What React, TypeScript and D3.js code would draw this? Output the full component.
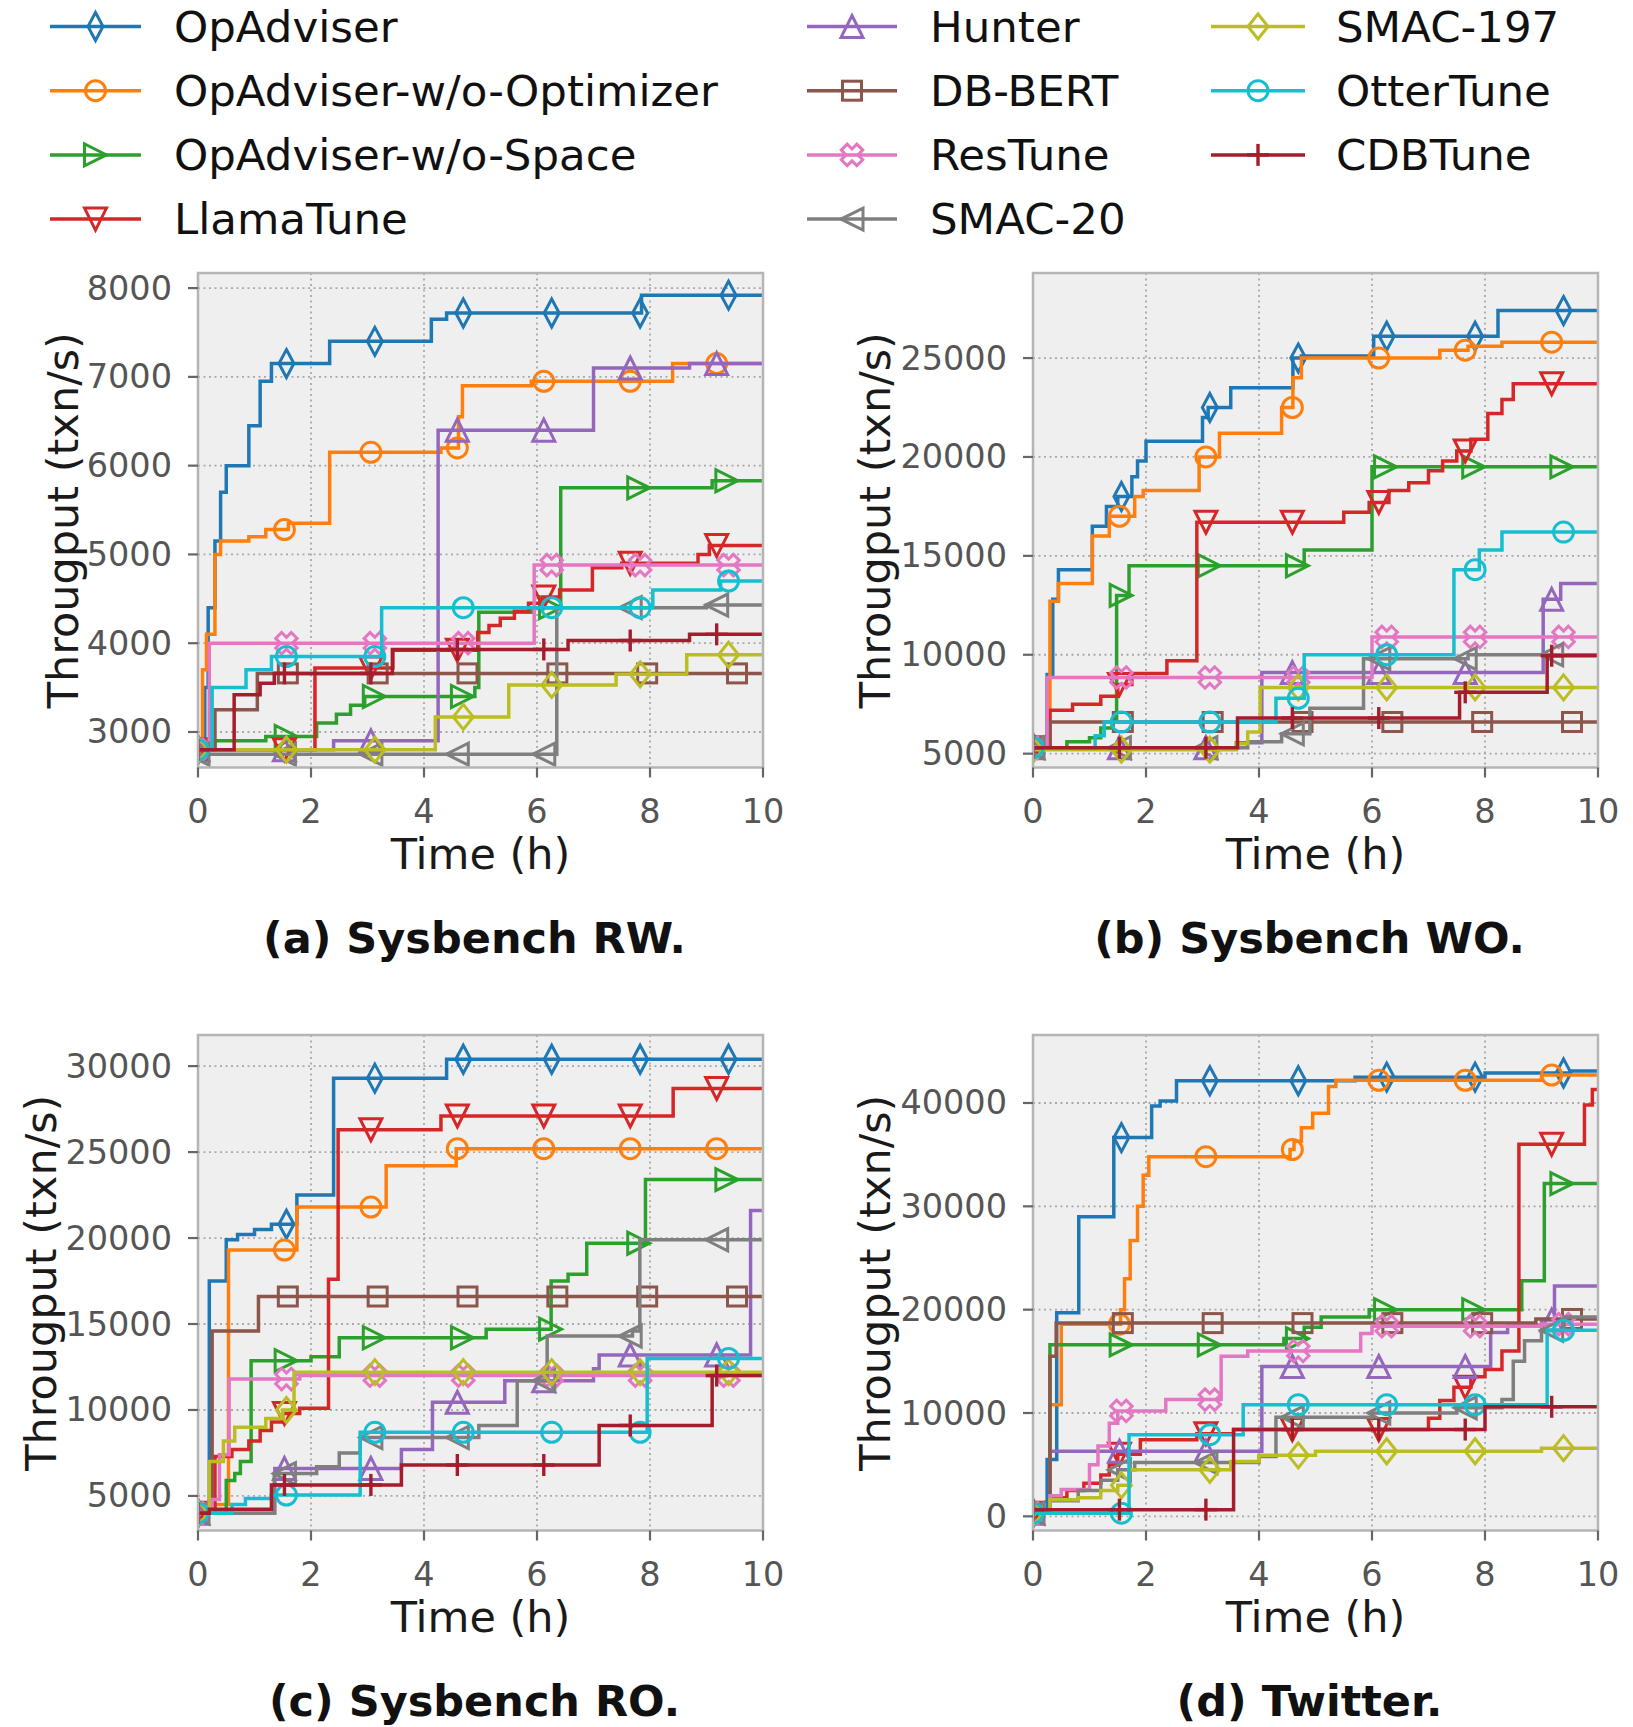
import React from 'react';
import * as d3 from 'd3';

type Pt = [number, number];

const methodNames = [
  'OpAdviser', 'OpAdviser-w/o-Optimizer', 'OpAdviser-w/o-Space', 'LlamaTune',
  'Hunter', 'DB-BERT', 'ResTune', 'SMAC-20', 'SMAC-197', 'OtterTune', 'CDBTune',
];

const timeTicks = [0, 2, 4, 6, 8, 10];
const rwTicks = [3000, 4000, 5000, 6000, 7000, 8000];
const woTicks = [5000, 10000, 15000, 20000, 25000];
const roTicks = [5000, 10000, 15000, 20000, 25000, 30000];
const twitterTicks = [0, 10000, 20000, 30000, 40000];

// best throughput so far, [hour, txn/s] at each improvement (drawn as steps-post)
// series order follows methodNames
const sysbenchRW: Pt[][] = [
  [[0, 2800], [0.12, 3500], [0.18, 4400], [0.3, 5150], [0.4, 5700], [0.5, 6000], [0.9, 6450], [1.1, 6950], [1.3, 7150], [2.33, 7400], [4.13, 7650], [4.4, 7720], [7.85, 7920]],
  [[0, 2800], [0.08, 3700], [0.15, 4100], [0.3, 5000], [0.4, 5150], [0.9, 5200], [1.2, 5280], [1.6, 5350], [2.33, 6150], [4.3, 6200], [4.61, 6550], [4.68, 6900], [5.9, 6950], [8.4, 7150]],
  [[0, 2800], [0.3, 2900], [1.2, 2950], [2.1, 3100], [2.45, 3200], [2.7, 3300], [2.95, 3400], [4.9, 3500], [4.97, 4350], [5.9, 4400], [6.42, 5750], [9.1, 5830]],
  [[0, 2800], [2.07, 3720], [3.45, 3920], [4.95, 4120], [5.15, 4200], [5.35, 4280], [5.6, 4360], [5.85, 4450], [6.1, 4520], [6.4, 4600], [6.98, 4850], [7.5, 4900], [8.85, 5000], [9.05, 5100]],
  [[0, 2800], [2.4, 2900], [4.25, 6400], [7.0, 7100], [8.7, 7150]],
  [[0, 2800], [0.3, 3250], [1.05, 3660]],
  [[0, 2800], [0.2, 4000], [5.95, 4880]],
  [[0, 2750], [6.35, 4400], [9.0, 4430]],
  [[0, 2800], [4.2, 3170], [5.5, 3530], [7.4, 3650], [8.65, 3870]],
  [[0, 2800], [0.25, 3500], [0.85, 3700], [1.3, 3850], [3.25, 4400], [8.05, 4600], [9.25, 4700]],
  [[0, 2800], [0.64, 3420], [1.1, 3550], [1.35, 3660], [3.44, 3930], [6.55, 4030], [8.7, 4100]],
];

const sysbenchWO: Pt[][] = [
  [[0, 5300], [0.25, 9000], [0.35, 12800], [0.45, 14300], [1.05, 16500], [1.3, 17500], [1.5, 18000], [1.75, 19000], [1.85, 19800], [2.0, 20800], [3.0, 22000], [3.1, 22500], [3.5, 23500], [4.6, 25000], [4.75, 25100], [6.03, 26100], [8.23, 27400]],
  [[0, 5300], [0.3, 12700], [0.45, 13600], [1.05, 16000], [1.35, 17000], [1.8, 18000], [1.95, 18300], [2.94, 20000], [3.3, 21200], [4.4, 22500], [4.6, 24000], [4.75, 25000], [7.2, 25400], [7.7, 25600], [8.3, 25800]],
  [[0, 5300], [0.6, 5600], [1.0, 5800], [1.2, 6300], [1.4, 6700], [1.48, 13000], [1.7, 14500], [4.8, 15300], [6.0, 19500]],
  [[0, 5300], [0.3, 7200], [0.7, 7500], [1.2, 7900], [1.5, 8500], [1.75, 9050], [2.37, 9700], [2.9, 16700], [5.5, 17200], [5.95, 17700], [6.3, 18300], [6.65, 18700], [7.0, 19300], [7.25, 19800], [7.5, 20300], [7.75, 20900], [8.05, 22200], [8.3, 22900], [8.5, 23700]],
  [[0, 5300], [3.6, 5550], [4.05, 9100], [9.03, 12800], [9.34, 13600]],
  [[0, 5300], [0.3, 6600]],
  [[0, 5300], [0.25, 8850], [6.0, 10900]],
  [[0, 5300], [3.8, 5600], [4.4, 6000], [4.9, 7300], [5.85, 9800], [7.7, 10000]],
  [[0, 5200], [3.6, 5500], [3.8, 6100], [4.02, 8350]],
  [[0, 5300], [1.1, 5900], [1.26, 6600], [4.3, 7800], [4.8, 10000], [7.45, 14300], [7.9, 15300], [8.3, 16200]],
  [[0, 5300], [3.62, 6800], [7.55, 8100], [9.1, 9950]],
];

const sysbenchRO: Pt[][] = [
  [[0, 4000], [0.2, 17500], [0.5, 19900], [0.7, 20200], [1.0, 20500], [1.3, 20800], [1.75, 22500], [2.4, 29300], [4.4, 30400]],
  [[0, 4000], [0.3, 4500], [0.54, 19300], [1.75, 21800], [3.33, 24200], [4.57, 25200]],
  [[0, 4000], [0.5, 5900], [0.65, 6300], [0.75, 7000], [0.94, 12870], [2.0, 13100], [2.5, 14200], [5.1, 14700], [6.25, 17500], [6.55, 17900], [6.88, 19700], [7.92, 23400]],
  [[0, 4000], [0.3, 7300], [0.6, 7700], [0.9, 8200], [1.1, 8800], [1.3, 9300], [1.5, 9800], [1.8, 10100], [2.31, 17600], [2.48, 26300], [4.3, 27100], [8.41, 28700]],
  [[0, 4000], [1.36, 6600], [3.6, 7700], [4.15, 10450], [5.43, 11700], [7.0, 12400], [7.1, 13200], [9.78, 21600]],
  [[0, 4000], [0.25, 14600], [1.07, 16600]],
  [[0, 4000], [0.25, 4800], [0.38, 7400], [0.55, 11800], [1.8, 12000]],
  [[0, 4000], [1.35, 6300], [2.1, 6700], [2.5, 7500], [2.87, 8400], [4.97, 9100], [5.65, 11700], [6.18, 14300], [7.69, 14600], [7.82, 19900]],
  [[0, 4000], [0.2, 7000], [0.45, 8200], [0.65, 9000], [1.2, 9500], [1.5, 10000], [1.7, 12200]],
  [[0, 4000], [0.6, 4500], [0.84, 4850], [1.3, 5050], [2.87, 8700], [7.95, 13000]],
  [[0, 4000], [0.2, 4230], [1.3, 5640], [3.6, 6800], [7.1, 9100], [9.1, 12000]],
];

const twitter: Pt[][] = [
  [[0, 300], [0.25, 5500], [0.42, 19700], [0.81, 29000], [1.43, 36650], [2.1, 39700], [2.25, 40200], [2.54, 42150], [5.7, 42500], [8.0, 42900], [9.5, 43100]],
  [[0, 300], [0.3, 10800], [0.5, 18600], [1.55, 20000], [1.62, 23000], [1.72, 26700], [1.85, 30000], [1.95, 33000], [2.05, 34800], [4.55, 35500], [4.62, 36300], [4.75, 37600], [4.95, 39000], [5.23, 41600], [5.36, 42200], [9.0, 42700]],
  [[0, 300], [0.3, 16600], [4.44, 17200], [4.8, 18300], [5.1, 19300], [5.95, 20000], [8.65, 22800], [9.05, 32200]],
  [[0, 300], [0.3, 1800], [0.6, 2500], [0.9, 3200], [1.2, 4000], [1.35, 5000], [1.5, 6000], [1.9, 7400], [2.9, 8000], [3.55, 8400], [7.0, 9500], [7.2, 11200], [7.45, 12500], [7.75, 13500], [8.0, 14200], [8.3, 16000], [8.6, 36000], [9.76, 39800], [9.9, 41300]],
  [[0, 300], [0.3, 6300], [4.05, 14500], [8.1, 17800], [8.4, 18500], [9.0, 19000], [9.23, 22300]],
  [[0, 300], [0.3, 15500], [0.41, 18700], [8.9, 19100]],
  [[0, 300], [0.3, 2000], [0.5, 2600], [1.0, 5000], [1.15, 6800], [1.35, 9000], [1.5, 10200], [2.35, 11300], [3.33, 15500], [3.8, 16000], [5.8, 17700], [6.0, 18400], [9.0, 18600]],
  [[0, 300], [0.3, 1500], [0.8, 2500], [1.2, 3500], [1.5, 4500], [1.8, 5200], [4.0, 5800], [4.3, 9600], [6.0, 10000], [7.5, 10500], [8.3, 11300], [8.5, 15000], [8.7, 17000], [9.0, 18000], [9.4, 19300]],
  [[0, 300], [0.3, 1600], [0.8, 1800], [1.2, 2500], [1.5, 3000], [1.7, 4500], [3.5, 5300], [4.0, 5900], [5.0, 6300], [9.0, 6600]],
  [[0, 300], [1.7, 7900], [3.72, 10800], [9.1, 18000]],
  [[0, 650], [3.55, 8400], [8.0, 10600]],
];

// styling per method
const colors = ['#1f77b4', '#ff7f0e', '#2ca02c', '#d62728', '#9467bd', '#8c564b', '#e377c2', '#7f7f7f', '#bcbd22', '#17becf', '#a51d2d'];
const markerKinds = ['thinDiamond', 'circle', 'triRight', 'triDown', 'triUp', 'square', 'xcross', 'triLeft', 'diamond', 'circle', 'plus'];
const markGaps = [1.565, 1.53, 1.56, 1.53, 1.53, 1.59, 1.565, 1.53, 1.565, 1.565, 1.53];

const FONT = 'DejaVu Sans';
const W = 1633;
const H = 1727;
const LW = 3.5;
const MW = 3;

const panels = [
  { caption: '(a) Sysbench RW.', data: sysbenchRW, ticks: rwTicks, domain: [2600, 8170], left: 198, right: 763, top: 273, bottom: 767.5, labelOff: 135 },
  { caption: '(b) Sysbench WO.', data: sysbenchWO, ticks: woTicks, domain: [4300, 29300], left: 1033, right: 1598, top: 273, bottom: 767.5, labelOff: 158 },
  { caption: '(c) Sysbench RO.', data: sysbenchRO, ticks: roTicks, domain: [2990, 31810], left: 198, right: 763, top: 1035, bottom: 1530.5, labelOff: 157 },
  { caption: '(d) Twitter.', data: twitter, ticks: twitterTicks, domain: [-1370, 46580], left: 1033, right: 1598, top: 1035, bottom: 1530.5, labelOff: 158 },
];

function poly(pts: Pt[]) {
  return pts.map((p) => p.join(',')).join(' ');
}

function Marker({ kind, x, y, color }: { kind: string; x: number; y: number; color: string }) {
  const st = { fill: 'none', stroke: color, strokeWidth: MW, strokeLinejoin: 'miter' as const };
  const t = `translate(${x},${y})`;
  switch (kind) {
    case 'circle':
      return <circle cx={x} cy={y} r={10} {...st} />;
    case 'thinDiamond':
      return <polygon transform={t} points={poly([[0, -14], [7.5, 0], [0, 14], [-7.5, 0]])} {...st} />;
    case 'diamond':
      return <polygon transform={t} points={poly([[0, -12.5], [10, 0], [0, 12.5], [-10, 0]])} {...st} />;
    case 'triUp':
      return <polygon transform={t} points={poly([[0, -11], [11, 11], [-11, 11]])} {...st} />;
    case 'triDown':
      return <polygon transform={t} points={poly([[0, 11], [11, -11], [-11, -11]])} {...st} />;
    case 'triRight':
      return <polygon transform={t} points={poly([[11, 0], [-11, 11], [-11, -11]])} {...st} />;
    case 'triLeft':
      return <polygon transform={t} points={poly([[-11, 0], [11, 11], [11, -11]])} {...st} />;
    case 'square':
      return <rect x={x - 9.5} y={y - 9.5} width={19} height={19} {...st} />;
    case 'xcross': {
      const L = 11, w = 4.2;
      const plus: Pt[] = [[-w, -L], [w, -L], [w, -w], [L, -w], [L, w], [w, w], [w, L], [-w, L], [-w, w], [-L, w], [-L, -w], [-w, -w]];
      return <polygon transform={`${t} rotate(45)`} points={poly(plus)} {...st} />;
    }
    case 'plus':
      return (
        <g transform={t} stroke={color} strokeWidth={3.4}>
          <line x1={0} y1={-11} x2={0} y2={11} />
          <line x1={-11} y1={0} x2={11} y2={0} />
        </g>
      );
    default:
      return null;
  }
}

function valueAt(steps: Pt[], t: number) {
  let v = steps[0][1];
  for (const [s, val] of steps) if (s <= t) v = val;
  return v;
}

function Panel({ cfg, idx }: { cfg: (typeof panels)[number]; idx: number }) {
  const x = d3.scaleLinear().domain([0, 10]).range([cfg.left, cfg.right]);
  const y = d3.scaleLinear().domain(cfg.domain).range([cfg.bottom, cfg.top]);
  const line = d3.line<Pt>().x((d) => x(d[0])).y((d) => y(d[1])).curve(d3.curveStepAfter);
  const clipId = `clip-${idx}`;
  const cx = (cfg.left + cfg.right) / 2;
  const cy = (cfg.top + cfg.bottom) / 2;

  return (
    <g>
      <defs>
        <clipPath id={clipId}>
          <rect x={cfg.left} y={cfg.top} width={cfg.right - cfg.left} height={cfg.bottom - cfg.top} />
        </clipPath>
      </defs>
      <rect x={cfg.left} y={cfg.top} width={cfg.right - cfg.left} height={cfg.bottom - cfg.top} fill="#efefef" />
      {/* grid */}
      {timeTicks.map((t) => (
        <line key={`gx${t}`} x1={x(t)} x2={x(t)} y1={cfg.top} y2={cfg.bottom} stroke="#a9a9a9" strokeWidth={1.8} strokeDasharray="2 3.5" />
      ))}
      {cfg.ticks.map((v) => (
        <line key={`gy${v}`} x1={cfg.left} x2={cfg.right} y1={y(v)} y2={y(v)} stroke="#a9a9a9" strokeWidth={1.8} strokeDasharray="2 3.5" />
      ))}
      {/* series */}
      <g clipPath={`url(#${clipId})`}>
        {cfg.data.map((steps, i) => {
          const last = steps[steps.length - 1];
          const pts: Pt[] = [...steps, [10, last[1]]];
          const marks = d3.range(0, 7).map((k) => k * markGaps[i]).filter((t) => t <= 10);
          return (
            <g key={i}>
              <path d={line(pts) ?? ''} fill="none" stroke={colors[i]} strokeWidth={LW} strokeLinejoin="miter" />
              {marks.map((t) => (
                <Marker key={t} kind={markerKinds[i]} x={x(t)} y={y(valueAt(steps, t))} color={colors[i]} />
              ))}
            </g>
          );
        })}
      </g>
      {/* frame */}
      <rect x={cfg.left} y={cfg.top} width={cfg.right - cfg.left} height={cfg.bottom - cfg.top} fill="none" stroke="#b5b5b5" strokeWidth={2.5} />
      {/* axes ticks */}
      {cfg.ticks.map((v) => (
        <g key={`ty${v}`}>
          <line x1={cfg.left - 10} x2={cfg.left} y1={y(v)} y2={y(v)} stroke="#666" strokeWidth={2.2} />
          <text x={cfg.left - 26} y={y(v)} textAnchor="end" dominantBaseline="central" fontFamily={FONT} fontSize={33.5} fill="#555">
            {v}
          </text>
        </g>
      ))}
      {timeTicks.map((t) => (
        <g key={`tx${t}`}>
          <line x1={x(t)} x2={x(t)} y1={cfg.bottom} y2={cfg.bottom + 10} stroke="#666" strokeWidth={2.2} />
          <text x={x(t)} y={cfg.bottom + 44} textAnchor="middle" dominantBaseline="central" fontFamily={FONT} fontSize={33.5} fill="#555">
            {t}
          </text>
        </g>
      ))}
      <text x={cx} y={cfg.bottom + 86} textAnchor="middle" dominantBaseline="central" fontFamily={FONT} fontSize={43} fill="#1a1a1a">
        Time (h)
      </text>
      <text transform={`translate(${cfg.left - cfg.labelOff},${cy}) rotate(-90)`} textAnchor="middle" dominantBaseline="central" fontFamily={FONT} fontSize={43} fill="#1a1a1a">
        Througput (txn/s)
      </text>
      <text x={cx - 6} y={cfg.bottom + 170} textAnchor="middle" dominantBaseline="central" fontFamily={FONT} fontWeight="bold" fontSize={43} fill="#111">
        {cfg.caption}
      </text>
    </g>
  );
}

const legendCols = [
  { x0: 50, x1: 141, tx: 174 },
  { x0: 807, x1: 897, tx: 930 },
  { x0: 1211, x1: 1305, tx: 1336 },
];

function Legend() {
  return (
    <g>
      {methodNames.map((name, i) => {
        const col = legendCols[Math.floor(i / 4)];
        const yy = 26.5 + (i % 4) * 64.2;
        const mx = (col.x0 + col.x1) / 2;
        return (
          <g key={name}>
            <line x1={col.x0} x2={col.x1} y1={yy} y2={yy} stroke={colors[i]} strokeWidth={LW} />
            <Marker kind={markerKinds[i]} x={mx} y={yy} color={colors[i]} />
            <text x={col.tx} y={yy} dominantBaseline="central" fontFamily={FONT} fontSize={43.5} fill="#111">
              {name}
            </text>
          </g>
        );
      })}
    </g>
  );
}

export default function App() {
  return (
    <svg width={W} height={H} viewBox={`0 0 ${W} ${H}`} style={{ position: 'absolute', left: 0, top: 0, background: '#fff' }}>
      <rect width={W} height={H} fill="#fff" />
      <Legend />
      {panels.map((p, i) => (
        <Panel key={p.caption} cfg={p} idx={i} />
      ))}
    </svg>
  );
}
